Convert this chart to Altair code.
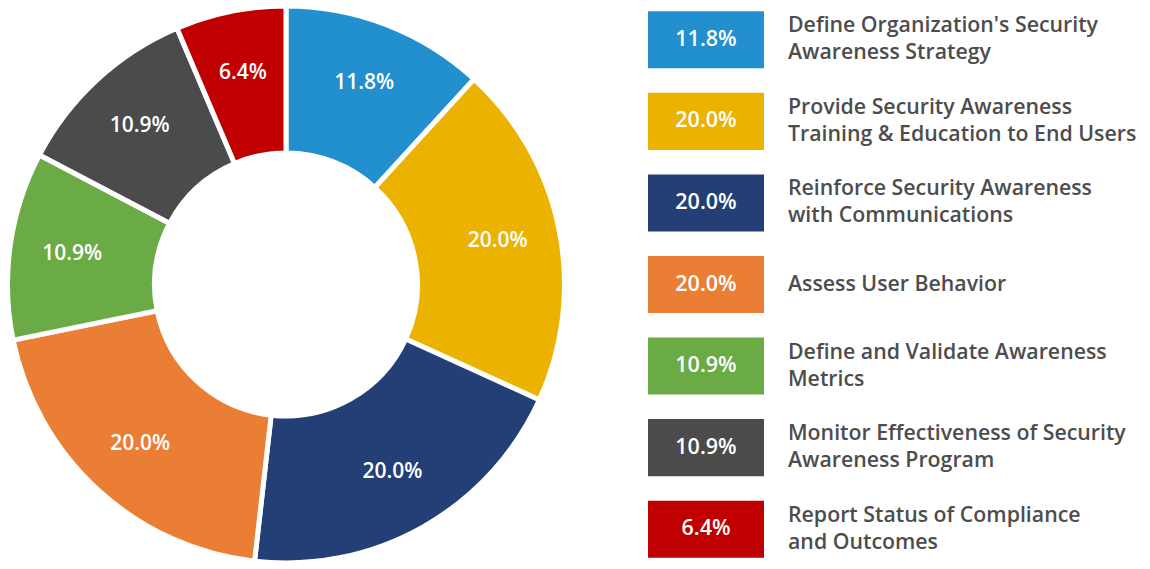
import altair as alt
import pandas as pd

categories = [
    "Define Organization's Security\nAwareness Strategy",
    "Provide Security Awareness\nTraining & Education to End Users",
    "Reinforce Security Awareness\nwith Communications",
    "Assess User Behavior",
    "Define and Validate Awareness\nMetrics",
    "Monitor Effectiveness of Security\nAwareness Program",
    "Report Status of Compliance\nand Outcomes",
]
values = [11.8, 20.0, 20.0, 20.0, 10.9, 10.9, 6.4]
colors = ["#228fcf", "#ecb200", "#243f76", "#ea7e34", "#6aab46", "#4b4b4b", "#c00000"]

df = pd.DataFrame({
    "category": categories,
    "value": values,
    "pct": [f"{v:.1f}%" for v in values],
    "order": list(range(len(categories))),
    "two": ["\n" in c for c in categories],
})

FONT = "Open Sans"
cx, cy = 278, 276.5

color = alt.Color("category:N", scale=alt.Scale(domain=categories, range=colors), legend=None)
theta = alt.Theta("value:Q", stack=True)
order = alt.Order("order:Q")

base = alt.Chart(df)

arcs = base.mark_arc(radius=278.5, radius2=131.5, stroke="white", strokeWidth=5).encode(
    theta=theta, color=color, order=order,
    x=alt.value(cx), y=alt.value(cy),
)

arc_text = base.mark_text(radius=216, font=FONT, fontSize=21, fontWeight=600, color="white").encode(
    theta=theta, order=order, text="pct:N",
    x=alt.value(cx), y=alt.value(cy),
)

yenc = alt.Y("category:N", sort=categories, axis=None,
             scale=alt.Scale(domain=categories, paddingInner=0.3, paddingOuter=0.04))

boxes = base.mark_rect().encode(
    y=yenc, x=alt.value(640), x2=alt.value(756), color=color,
)

box_text = base.mark_text(font=FONT, fontSize=21.5, fontWeight=600, color="white").encode(
    y=yenc, x=alt.value(698), text="pct:N",
)

label_style = dict(font=FONT, fontSize=21.3, fontWeight=600, color="#4d4d4d", align="left",
                   baseline="middle", lineBreak="\n", lineHeight=27)

labels2 = base.transform_filter("datum.two").mark_text(dy=-13.5, **label_style).encode(
    y=yenc, x=alt.value(780), text="category:N",
)
labels1 = base.transform_filter("!datum.two").mark_text(**label_style).encode(
    y=yenc, x=alt.value(780), text="category:N",
)

chart = alt.layer(arcs, arc_text, boxes, box_text, labels2, labels1).properties(
    width=1134, height=553, padding=0, autosize="none"
).configure_view(stroke=None)

chart.save("out.html", embed_options={"renderer": "svg", "actions": False})
